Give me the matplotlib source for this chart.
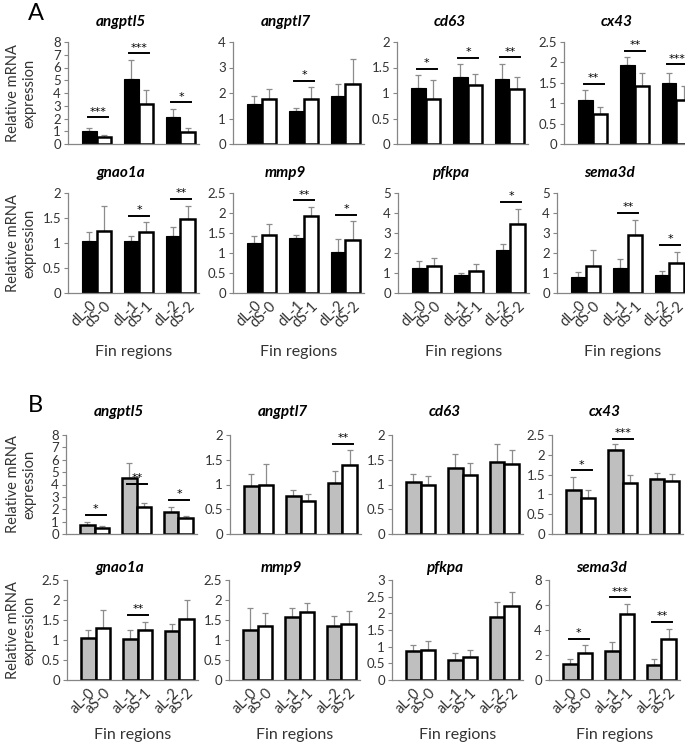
import matplotlib

matplotlib.use("Agg")
import matplotlib.pyplot as plt
from matplotlib.ticker import MultipleLocator, FormatStrFormatter

plt.rcParams["font.family"] = ["Lato", "DejaVu Sans"]

GENES = ["angptl5", "angptl7", "cd63", "cx43", "gnao1a", "mmp9", "pfkpa", "sema3d"]

# panel A: dorsal lobe (dL = black) vs dorsal short (dS = white)
A_LABELS = ["dL-0", "dS-0", "dL-1", "dS-1", "dL-2", "dS-2"]
A_L = [
    [0.99, 5.12, 2.09], [1.57, 1.31, 1.88], [1.09, 1.32, 1.27], [1.09, 1.94, 1.50],
    [1.05, 1.04, 1.14], [1.25, 1.37, 1.03], [1.25, 0.92, 2.15], [0.82, 1.25, 0.92],
]
A_L_ERR = [
    [0.26, 1.48, 0.68], [0.33, 0.12, 0.47], [0.27, 0.24, 0.29], [0.23, 0.19, 0.25],
    [0.18, 0.11, 0.18], [0.18, 0.09, 0.33], [0.35, 0.10, 0.30], [0.25, 0.43, 0.16],
]
A_S = [
    [0.52, 3.16, 0.94], [1.76, 1.76, 2.36], [0.89, 1.16, 1.08], [0.74, 1.41, 1.08],
    [1.25, 1.22, 1.48], [1.45, 1.92, 1.33], [1.37, 1.10, 3.45], [1.33, 2.90, 1.50],
]
A_S_ERR = [
    [0.16, 1.10, 0.31], [0.39, 0.46, 0.97], [0.36, 0.21, 0.24], [0.16, 0.34, 0.33],
    [0.49, 0.21, 0.26], [0.27, 0.23, 0.46], [0.36, 0.33, 0.73], [0.82, 0.77, 0.55],
]
A_YMAX = [8, 4, 2, 2.5, 2, 2.5, 5, 5]
A_YSTEP = [1, 1, 0.5, 0.5, 0.5, 0.5, 1, 1]
A_SIG = [
    [(0, 2.1, "***"), (1, 7.1, "***"), (2, 3.27, "*")],
    [(1, 2.48, "*")],
    [(0, 1.48, "*"), (1, 1.69, "*"), (2, 1.70, "**")],
    [(0, 1.48, "**"), (1, 2.29, "**"), (2, 1.95, "***")],
    [(1, 1.55, "*"), (2, 1.89, "**")],
    [(1, 2.32, "**"), (2, 1.96, "*")],
    [(2, 4.57, "*")],
    [(1, 4.02, "**"), (2, 2.4, "*")],
]

# panel B: anal lobe (aL = grey) vs anal short (aS = white)
B_LABELS = ["aL-0", "aS-0", "aL-1", "aS-1", "aL-2", "aS-2"]
B_L = [
    [0.74, 4.56, 1.74], [0.96, 0.77, 1.04], [1.06, 1.34, 1.45], [1.12, 2.13, 1.40],
    [1.05, 1.03, 1.23], [1.26, 1.58, 1.35], [0.88, 0.60, 1.89], [1.30, 2.31, 1.22],
]
B_L_ERR = [
    [0.21, 1.14, 0.42], [0.26, 0.12, 0.23], [0.16, 0.28, 0.36], [0.32, 0.15, 0.13],
    [0.20, 0.22, 0.17], [0.55, 0.21, 0.26], [0.17, 0.20, 0.44], [0.35, 0.75, 0.43],
]
B_S = [
    [0.45, 2.16, 1.29], [1.00, 0.66, 1.39], [0.99, 1.20, 1.41], [0.90, 1.29, 1.33],
    [1.30, 1.25, 1.52], [1.35, 1.69, 1.39], [0.91, 0.70, 2.22], [2.18, 5.32, 3.27],
]
B_S_ERR = [
    [0.21, 0.34, 0.16], [0.42, 0.15, 0.30], [0.18, 0.24, 0.29], [0.21, 0.19, 0.18],
    [0.44, 0.19, 0.47], [0.33, 0.23, 0.33], [0.27, 0.19, 0.41], [0.59, 0.77, 0.83],
]
B_YMAX = [8, 2, 2, 2.5, 2.5, 2.5, 3, 8]
B_YSTEP = [1, 0.5, 0.5, 0.5, 0.5, 0.5, 0.5, 2]
B_SIG = [
    [(0, 1.53, "*"), (1, 4.04, "**"), (2, 2.77, "*")],
    [(2, 1.82, "**")],
    [],
    [(0, 1.61, "*"), (1, 2.41, "***")],
    [(1, 1.63, "**")],
    [],
    [],
    [(0, 3.3, "*"), (1, 6.62, "***"), (2, 4.63, "**")],
]

W, H = 685, 743
AX_W = 131
BAR_W = 0.35
AXIS_GREY = "#868686"
TEXT_GREY = "#333333"


def px_rect(left, top, zero):
    return [left / W, 1 - zero / H, AX_W / W, (zero - top) / H]


def draw_chart(ax, low, low_err, high, high_err, ymax, ystep, sig, low_color, labels):
    groups = range(len(low))
    xl = [g - BAR_W / 2 for g in groups]
    xs = [g + BAR_W / 2 for g in groups]

    for x, y, e in [(xl, low, low_err), (xs, high, high_err)]:
        ax.errorbar(x, y, yerr=[[0] * len(e), e], fmt="none", ecolor="#8c8c8c",
                    elinewidth=0.9, capsize=2.2, capthick=0.9, zorder=1)

    edge_lw = 0.8 if low_color == "black" else 1.8
    ax.bar(xl, low, BAR_W, color=low_color, edgecolor="black", linewidth=edge_lw, zorder=2)
    ax.bar(xs, high, BAR_W, color="white", edgecolor="black", linewidth=1.8, zorder=2)

    for g, y, stars in sig:
        ax.plot([g - 0.22, g + 0.26], [y, y], color="black", lw=1.4, clip_on=False, zorder=3)
        ax.annotate(stars, (g + 0.02, y), xytext=(0, 0.5), textcoords="offset points",
                    ha="center", va="bottom", fontsize=8, family="DejaVu Sans")

    ax.set_xlim(-0.69, 2.45)
    ax.set_ylim(0, ymax)
    ax.yaxis.set_major_locator(MultipleLocator(ystep))
    ax.yaxis.set_major_formatter(FormatStrFormatter("%g"))
    for side in ["top", "right"]:
        ax.spines[side].set_visible(False)
    for side in ["left", "bottom"]:
        ax.spines[side].set_color(AXIS_GREY)
        ax.spines[side].set_linewidth(0.9)
    ax.tick_params(axis="y", length=3, width=0.8, color=AXIS_GREY, labelsize=9.5,
                   labelcolor=TEXT_GREY, pad=2)

    if labels is None:
        ax.set_xticks([])
    else:
        ax.set_xticks(sorted(xl + xs))
        ax.set_xticklabels(labels, rotation=45, ha="right", rotation_mode="anchor")
        ax.tick_params(axis="x", length=0, labelsize=10.5, labelcolor=TEXT_GREY, pad=4)


fig = plt.figure(figsize=(W / 100, H / 100), dpi=100)

panels = [
    (A_L, A_L_ERR, A_S, A_S_ERR, A_YMAX, A_YSTEP, A_SIG, "black", A_LABELS,
     [[68, 233, 397, 564], [68, 233, 398, 557]], [(42, 144, 22), (193, 293, 173)], 352),
    (B_L, B_L_ERR, B_S, B_S_ERR, B_YMAX, B_YSTEP, B_SIG, "#bfbfbf", B_LABELS,
     [[66, 230, 392, 552], [67, 229, 392, 549]], [(435, 534, 412), (580, 680, 568)], 735),
]

for low, low_err, high, high_err, ymax, ystep, sig, color, labels, cols, rows, fin_y in panels:
    for i, gene in enumerate(GENES):
        r, c = divmod(i, 4)
        top, zero, title_y = rows[r]
        left = cols[r][c]
        ax = fig.add_axes(px_rect(left, top, zero))
        draw_chart(ax, low[i], low_err[i], high[i], high_err[i], ymax[i], ystep[i],
                   sig[i], color, labels if r == 1 else None)
        fig.text((left + AX_W * 0.40) / W, 1 - title_y / H, gene, ha="center",
                 va="center", fontsize=11, fontweight="bold", fontstyle="italic")
        if c == 0:
            fig.text(21 / W, 1 - (top + zero) / 2 / H, "Relative mRNA\nexpression",
                     rotation=90, ha="center", va="center", fontsize=10.5,
                     color=TEXT_GREY, linespacing=1.2)
        if r == 1:
            fig.text((left + AX_W / 2) / W, 1 - fin_y / H, "Fin regions",
                     ha="center", va="center", fontsize=11.5, color=TEXT_GREY)

fig.text(36 / W, 1 - 13 / H, "A", ha="center", va="center", fontsize=17)
fig.text(35 / W, 1 - 405 / H, "B", ha="center", va="center", fontsize=17)

fig.savefig("out.png", dpi=100)
